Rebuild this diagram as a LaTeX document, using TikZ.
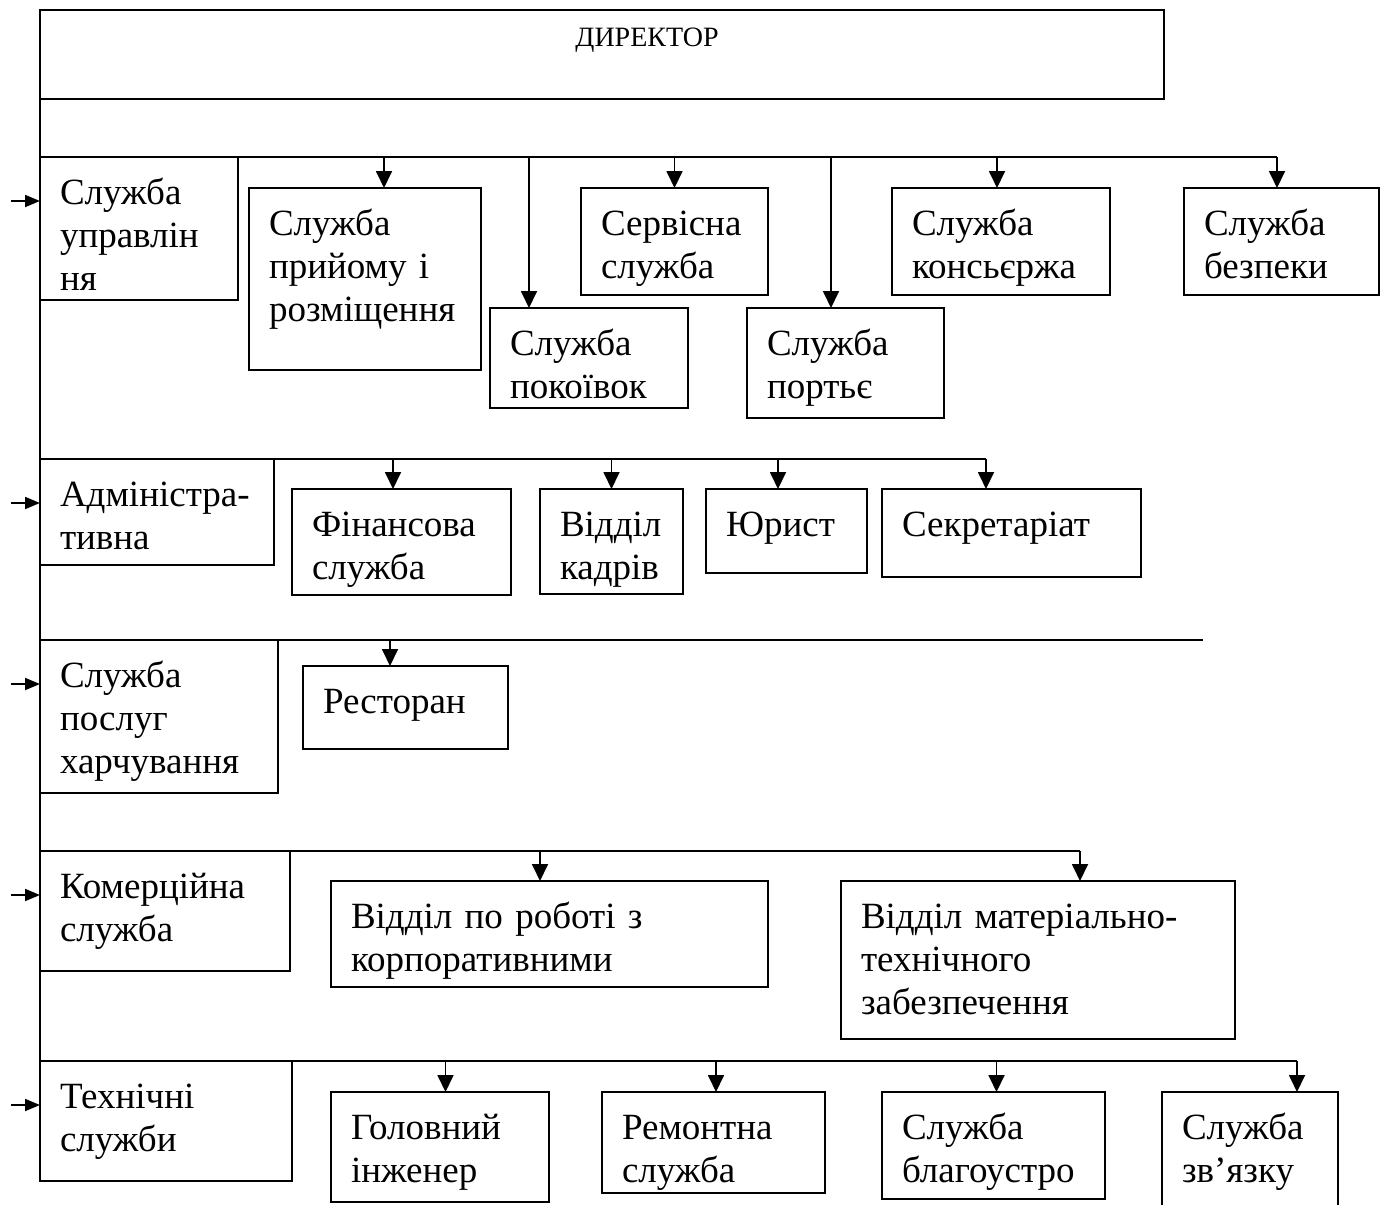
\documentclass[tikz,border=0pt]{standalone}
\usepackage{fontspec}
\setmainfont{Liberation Serif}
\usetikzlibrary{arrows.meta}
\tikzstyle{chief} = [rectangle, draw=black, line width=1.8pt, anchor=north west, inner sep=0pt, outer sep=0pt]
\tikzstyle{chiefname} = [font=\fontsize{28}{33}\selectfont, anchor=base, inner sep=0pt]
\tikzstyle{dept} = [rectangle, draw=black, line width=1.8pt, anchor=north west, align=left, inner xsep=20pt, inner ysep=0pt, outer sep=0pt, text height=47pt, font=\fontsize{37}{43}\selectfont]
\tikzstyle{bus} = [line width=1.8pt]
\tikzstyle{arrow} = [line width=1.8pt, -{Triangle[length=17pt 0, width=16pt 0]}]
\tikzstyle{entry} = [line width=1.8pt, -{Triangle[length=15pt 0, width=12pt 0]}]

\begin{document}
\begin{tikzpicture}[x=1pt, y=-1pt]
	\useasboundingbox (0,0) rectangle (1382,1205);

	\node (director) [chief, minimum width=1124pt, minimum height=89pt] at (40,10) {};
	\node (directorname) [chiefname] at ([xshift=45pt, yshift=-36pt]director.north) {ДИРЕКТОР};

	\node (management) [dept, text width=158pt, text depth=96pt] at (40,157) {Служба\\управлін\\ня};
	\node (reception) [dept, text width=192pt, text depth=135pt] at (249,188) {Служба\\прийому і\\розміщення};
	\node (maids) [dept, text width=158pt, text depth=53pt] at (490,308) {Служба\\покоївок};
	\node (service) [dept, text width=147pt, text depth=60pt] at (581,188) {Сервісна\\служба};
	\node (porter) [dept, text width=157pt, text depth=63pt] at (747,308) {Служба\\портьє};
	\node (concierge) [dept, text width=178pt, text depth=60pt] at (892,188) {Служба\\консьєржа};
	\node (security) [dept, text width=155pt, text depth=60pt] at (1184,188) {Служба\\безпеки};

	\draw [bus] (management.north east) -- ([xshift=-4.5pt]management.north -| security.north);
	\draw [arrow] ([xshift=19pt]management.north -| reception.north) -- ([xshift=19pt]reception.north);
	\draw [arrow] ([xshift=-60pt]management.north -| maids.north) -- ([xshift=-60pt]maids.north);
	\draw [arrow] (management.north -| service.north) -- (service.north);
	\draw [arrow] ([xshift=-14.5pt]management.north -| porter.north) -- ([xshift=-14.5pt]porter.north);
	\draw [arrow] ([xshift=-4pt]management.north -| concierge.north) -- ([xshift=-4pt]concierge.north);
	\draw [arrow] ([xshift=-4.5pt]management.north -| security.north) -- ([xshift=-4.5pt]security.north);

	\node (admin) [dept, text width=194pt, text depth=59pt] at (40,459) {Адміністра-\\тивна};
	\node (finance) [dept, text width=179pt, text depth=59pt] at (292,489) {Фінансова\\служба};
	\node (personnel) [dept, text width=103pt, text depth=58pt] at (540,489) {Відділ\\кадрів};
	\node (lawyer) [dept, text width=121pt, text depth=37pt] at (706,489) {Юрист};
	\node (secretariat) [dept, text width=219pt, text depth=41pt] at (882,489) {Секретаріат};

	\draw [bus] (admin.north east) -- ([xshift=-25.5pt]admin.north -| secretariat.north);
	\draw [arrow] ([xshift=-8.5pt]admin.north -| finance.north) -- ([xshift=-8.5pt]finance.north);
	\draw [arrow] (admin.north -| personnel.north) -- (personnel.north);
	\draw [arrow] ([xshift=-8.5pt]admin.north -| lawyer.north) -- ([xshift=-8.5pt]lawyer.north);
	\draw [arrow] ([xshift=-25.5pt]admin.north -| secretariat.north) -- ([xshift=-25.5pt]secretariat.north);

	\node (catering) [dept, text width=198pt, text depth=106pt] at (40,640) {Служба\\послуг\\харчування};
	\node (restaurant) [dept, text width=165pt, text depth=36pt] at (303,666) {Ресторан};
	\coordinate (cateringend) at ([xshift=925pt]catering.north east);

	\draw [bus] (catering.north east) -- (cateringend);
	\draw [arrow] ([xshift=-15.5pt]catering.north -| restaurant.north) -- ([xshift=-15.5pt]restaurant.north);

	\node (commerce) [dept, text width=210pt, text depth=73pt] at (40,851) {Комерційна\\служба};
	\node (corporate) [dept, text width=397pt, text depth=59pt] at (331,881) {Відділ по роботі з\\корпоративними};
	\node (supply) [dept, text width=354pt, text depth=111pt] at (841,881) {Відділ матеріально-\\технічного\\забезпечення};

	\draw [bus] (commerce.north east) -- ([xshift=42pt]commerce.north -| supply.north);
	\draw [arrow] ([xshift=-9.5pt]commerce.north -| corporate.north) -- ([xshift=-9.5pt]corporate.north);
	\draw [arrow] ([xshift=42pt]commerce.north -| supply.north) -- ([xshift=42pt]supply.north);

	\node (technical) [dept, text width=212pt, text depth=73pt] at (40,1061) {Технічні\\служби};
	\node (engineer) [dept, text width=178pt, text depth=63pt] at (331,1092) {Головний\\інженер};
	\node (repair) [dept, text width=183pt, text depth=54pt] at (602,1092) {Ремонтна\\служба};
	\node (grounds) [dept, text width=183pt, text depth=60pt] at (882,1092) {Служба\\благоустро};
	\node (communication) [dept, text width=136pt, text depth=68pt] at (1162,1092) {Служба\\зв’язку};

	\draw [bus] (technical.north east) -- ([xshift=47pt]technical.north -| communication.north);
	\draw [arrow] ([xshift=5.5pt]technical.north -| engineer.north) -- ([xshift=5.5pt]engineer.north);
	\draw [arrow] ([xshift=2.5pt]technical.north -| repair.north) -- ([xshift=2.5pt]repair.north);
	\draw [arrow] ([xshift=3pt]technical.north -| grounds.north) -- ([xshift=3pt]grounds.north);
	\draw [arrow] ([xshift=47pt]technical.north -| communication.north) -- ([xshift=47pt]communication.north);

	\draw [bus] (director.south west) -- (technical.south west);

	\coordinate (managementin) at ([xshift=-29pt, yshift=-44pt]management.north west);
	\coordinate (adminin) at ([xshift=-29pt, yshift=-44pt]admin.north west);
	\coordinate (cateringin) at ([xshift=-29pt, yshift=-44pt]catering.north west);
	\coordinate (commercein) at ([xshift=-29pt, yshift=-44pt]commerce.north west);
	\coordinate (technicalin) at ([xshift=-29pt, yshift=-44pt]technical.north west);

	\draw [entry] (managementin) -- ([yshift=-44pt]management.north west);
	\draw [entry] (adminin) -- ([yshift=-44pt]admin.north west);
	\draw [entry] (cateringin) -- ([yshift=-44pt]catering.north west);
	\draw [entry] (commercein) -- ([yshift=-44pt]commerce.north west);
	\draw [entry] (technicalin) -- ([yshift=-44pt]technical.north west);
\end{tikzpicture}
\end{document}
